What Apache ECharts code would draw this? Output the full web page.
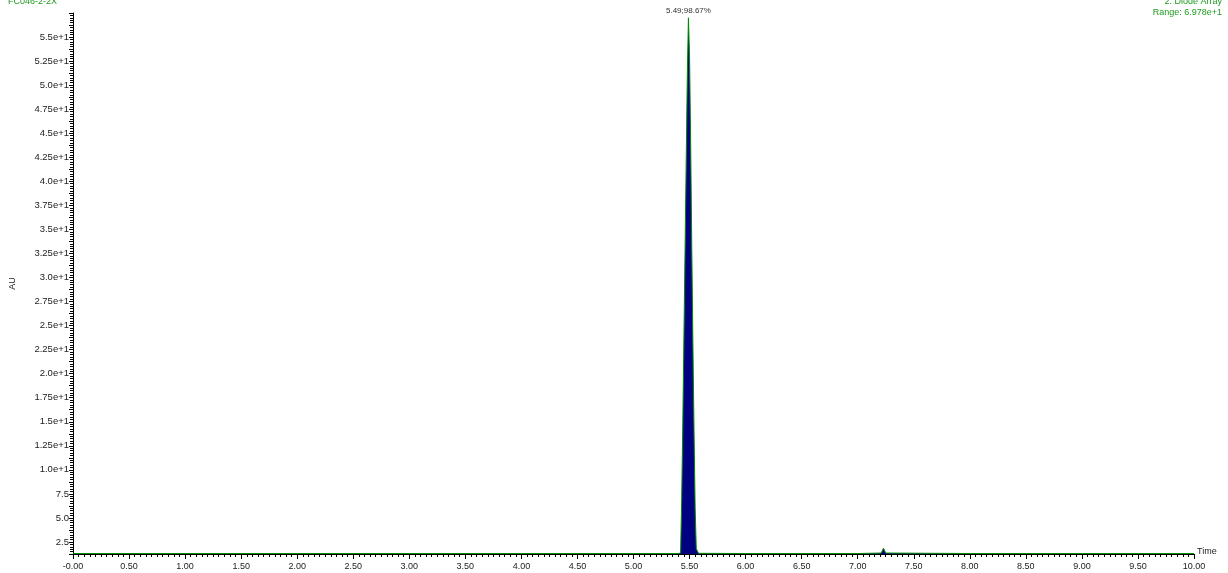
<!DOCTYPE html>
<html>
<head>
<meta charset="utf-8">
<script src="https://cdn.jsdelivr.net/npm/echarts@6/dist/echarts.min.js"></script>
<style>
  html, body { margin: 0; padding: 0; background: #fff; }
  #main { width: 1228px; height: 573px; }
</style>
</head>
<body>
<div id="main"></div>
<script>
// chromatogram (time in min, AU)
var times = [0.00, 1.00, 2.00, 3.00, 4.00, 5.00, 5.40, 5.42, 5.43, 5.44, 5.45, 5.46, 5.47, 5.48, 5.49,
    5.50, 5.51, 5.52, 5.53, 5.54, 5.55, 5.56, 5.58, 6.00, 7.00, 7.21, 7.23, 7.25, 8.00, 9.00, 10.00];
var absorb = [1.30, 1.30, 1.30, 1.30, 1.30, 1.30, 1.30, 1.35, 7.0, 15.0, 24.0, 33.0, 42.0, 51.0, 57.0,
    53.0, 44.0, 33.0, 23.0, 14.0, 6.0, 1.8, 1.32, 1.30, 1.30, 1.35, 1.85, 1.35, 1.30, 1.30, 1.30];
var peakTime = 5.49;
var peakText = '5.49;98.67%';
var titleLeft = 'FC046-2-2X';
var titleRight = ['2: Diode Array', 'Range: 6.978e+1'];

var green = '#1f9a1f';
var fontFam = '"Liberation Sans", Arial, sans-serif';

function fmtY(v) {
    var k = Math.round(v / 1.25);
    if (k % 2 !== 0) return '';
    if (v < 10) return v.toFixed(1);
    var m = v / 10;
    var s = (Math.round(m * 100) % 10 === 0) ? m.toFixed(1) : m.toFixed(2);
    return s + 'e+1';
}

var data = times.map(function (t, i) {
    if (t === peakTime) {
        return {
            value: [t, absorb[i]],
            label: {
                show: true, position: 'top', distance: 3,
                formatter: peakText, color: '#333', fontSize: 8, fontFamily: fontFam
            }
        };
    }
    return [t, absorb[i]];
});

var titleStyle = { color: green, fontSize: 9, fontWeight: 'normal', fontFamily: fontFam };

var myChart = echarts.init(document.getElementById('main'));
myChart.setOption({
    animation: false,
    title: [{
        text: titleLeft, left: 8, top: -3, padding: 0, textStyle: titleStyle
    }, {
        text: titleRight[0], right: 6, top: -3, padding: 0, textStyle: titleStyle
    }, {
        text: titleRight[1], right: 6, top: 8, padding: 0, textStyle: titleStyle
    }],
    grid: { left: 71, right: 34, top: 13, bottom: 19 },
    xAxis: {
        type: 'value', min: 0, max: 10, interval: 0.5,
        name: 'Time', nameLocation: 'end', nameGap: 3,
        nameTextStyle: { color: '#222', fontSize: 9, fontFamily: fontFam, verticalAlign: 'bottom', padding: [0, 0, -2, 0] },
        axisLine: { show: true, lineStyle: { color: '#000', width: 1 } },
        axisTick: { show: true, length: 5, lineStyle: { color: '#000' } },
        minorTick: { show: true, splitNumber: 10, length: 3, lineStyle: { color: '#000' } },
        axisLabel: {
            color: '#222', fontSize: 9, fontFamily: fontFam, margin: 8,
            formatter: function (v) { return v === 0 ? '-0.00' : v.toFixed(2); }
        },
        splitLine: { show: false }
    },
    yAxis: {
        type: 'value', min: 1.25, max: 57.5, interval: 1.25,
        name: 'AU', nameLocation: 'middle', nameGap: 56, nameRotate: 90,
        nameTextStyle: { color: '#222', fontSize: 9, fontFamily: fontFam },
        axisLine: { show: true, lineStyle: { color: '#000', width: 1 } },
        axisTick: { show: true, length: 4, lineStyle: { color: '#000' } },
        minorTick: { show: true, splitNumber: 5, length: 3, lineStyle: { color: '#000' } },
        axisLabel: {
            color: '#222', fontSize: 9.5, fontFamily: fontFam, margin: 4,
            showMinLabel: false, showMaxLabel: false,
            formatter: fmtY
        },
        splitLine: { show: false }
    },
    series: [{
        type: 'line',
        data: data,
        showSymbol: true,
        symbol: 'circle',
        symbolSize: 0,
        lineStyle: { color: '#008a00', width: 1 },
        areaStyle: { color: '#000080', opacity: 1, origin: 'start' },
        z: 3
    }]
});
</script>
</body>
</html>
